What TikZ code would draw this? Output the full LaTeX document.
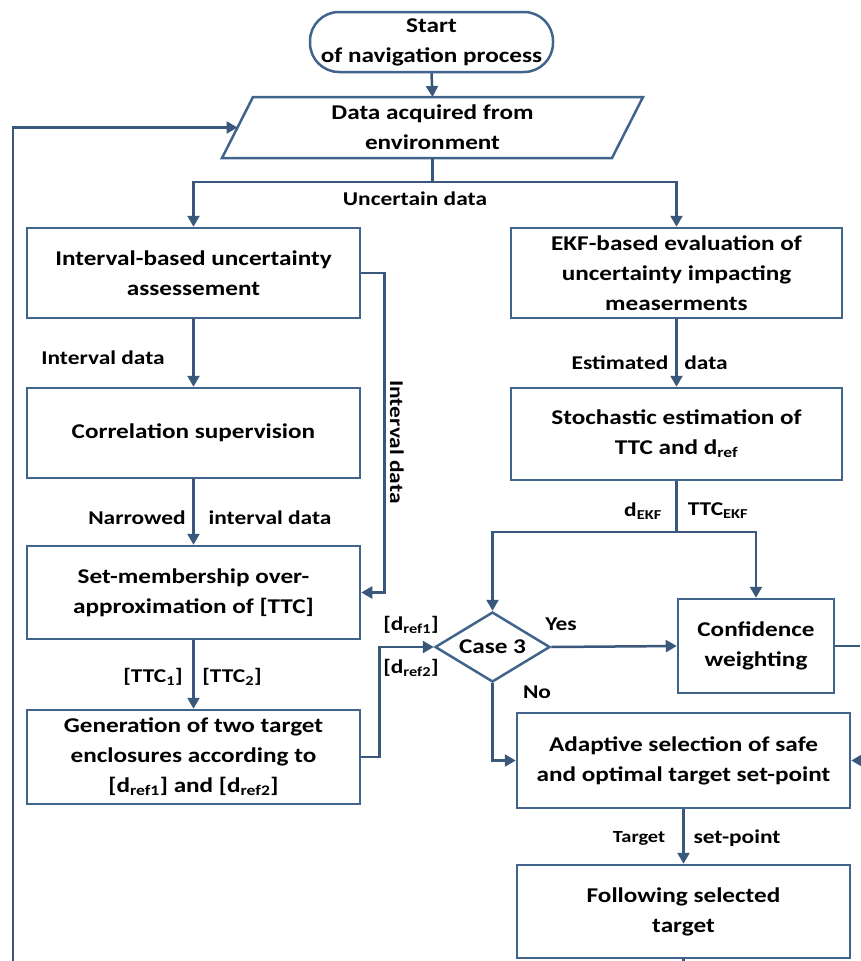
\documentclass[tikz,border=0pt]{standalone}
\usepackage{fontspec}
\setmainfont{Carlito}[FakeStretch=1.2]
\usetikzlibrary{arrows.meta,shapes.geometric}
\definecolor{boxc}{RGB}{65,100,140}
\definecolor{linec}{RGB}{58,88,124}
\newcommand\bxfont{\fontsize{21}{30}\selectfont\bfseries}
\newcommand\lbfont{\fontsize{19.5}{24}\selectfont\bfseries}
\newcommand\smfont{\fontsize{17}{20}\selectfont\bfseries}
\begin{document}
\begin{tikzpicture}[x=1pt,y=-1pt,
  box/.style={draw=boxc, line width=2.5pt, fill=white, align=center, font=\bxfont, inner sep=0pt},
  lbl/.style={font=\lbfont, inner sep=0pt},
  ln/.style={draw=linec, line width=2.5pt},
  arr/.style={draw=linec, line width=2.5pt, -{Triangle[length=11pt,width=12pt]}}]
\useasboundingbox (0,0) rectangle (860,961);

% nodes
\node[box, rounded corners=29pt, minimum width=243pt, minimum height=60pt] (start) at (431.5,42) {Start\\of navigation process};
\draw[draw=boxc, line width=2.5pt] (253,97) -- (643,97) -- (612,158) -- (222,158) -- cycle;
\node[font=\bxfont, align=center, inner sep=0pt] (data) at (432.5,127.5) {Data acquired from\\environment};
\coordinate (dataT) at (432.5,97);
\coordinate (dataB) at (432.5,158);
\coordinate (dataL) at (237.5,127.5);

\node[box, minimum width=333pt, minimum height=90pt] (b1) at (193.5,273) {Interval-based uncertainty\\assessement};
\node[box, minimum width=331pt, minimum height=90pt] (r1) at (676.5,273) {EKF-based evaluation of\\uncertainty impacting\\measerments};
\node[box, minimum width=333pt, minimum height=90pt] (b2) at (193.5,433) {Correlation supervision};
\node[box, minimum width=331pt, minimum height=92pt] (r2) at (676.5,434) {Stochastic estimation of\\TTC and d\textsubscript{ref}};
\node[box, minimum width=333pt, minimum height=93pt] (b3) at (193.5,592.5) {Set-membership over-\\approximation of [TTC]};
\node[box, minimum width=333pt, minimum height=94pt] (b4) at (193.5,757) {Generation of two target\\enclosures according to\\{[}d\textsubscript{ref1}{]} and {[}d\textsubscript{ref2}{]}};
\node[box, diamond, aspect=1.64, minimum width=115pt, minimum height=70pt] (dia) at (492.5,647) {Case 3};
\node[box, minimum width=156pt, minimum height=94pt] (conf) at (756,646) {Confidence\\weighting};
\node[box, minimum width=333pt, minimum height=95pt] (adapt) at (683.5,760.5) {Adaptive selection of safe\\and optimal target set-point};
\node[box, minimum width=333pt, minimum height=93pt] (follow) at (683.5,911.5) {Following selected\\target};

\coordinate (split) at (432.5,182);
\coordinate (split2) at (676.5,532);
\coordinate (rE1) at (860,646);
\coordinate (rE2) at (860,760.5);
\coordinate (fB) at (683.5,961);
\coordinate (lB) at (13,961);

% connectors
\draw[arr] (start.south) -- (dataT);
\draw[ln] (dataB) -- (split);
\draw[arr] (split) -| (b1.north);
\draw[arr] (split) -| (r1.north);
\draw[arr] (b1.south) -- (b2.north);
\draw[arr] (b2.south) -- (b3.north);
\draw[arr] (b3.south) -- (b4.north);
\draw[arr] (b1.east) -- ++(23,0) |- (b3.east);
\draw[arr] (b4.east) -- ++(18,0) |- (dia.west);
\draw[arr] (r1.south) -- (r2.north);
\draw[ln] (r2.south) -- (split2);
\draw[arr] (split2) -| (dia.north);
\draw[arr] (split2) -| (conf.north);
\draw[arr] (dia.east) -- (conf.west);
\draw[arr] (dia.south) |- (adapt.west);
\draw[ln] (conf.east) -- (rE1);
\draw[arr] (rE2) -- (adapt.east);
\draw[arr] (adapt.south) -- (follow.north);
\draw[ln] (follow.south) -- (fB);
\draw[arr] (lB) |- (dataL);

% labels
\node[lbl] at (415,199) {Uncertain data};
\node[lbl] at (103,358) {Interval data};
\node[lbl] at (620,363) {Estimated};
\node[lbl] at (706,363) {data};
\node[lbl, rotate=-90] at (397,442) {Interval data};
\node[lbl] at (137,518) {Narrowed};
\node[lbl] at (270,518) {interval data};
\node[lbl] at (153,677) {{[}TTC\textsubscript{1}{]}};
\node[lbl] at (232,677) {{[}TTC\textsubscript{2}{]}};
\node[lbl] at (643,511) {d\textsubscript{EKF}};
\node[lbl] at (718,511) {TTC\textsubscript{EKF}};
\node[lbl] at (411,625) {{[}d\textsubscript{ref1}{]}};
\node[lbl] at (411,668) {{[}d\textsubscript{ref2}{]}};
\node[lbl] at (561,624) {Yes};
\node[lbl] at (537,692) {No};
\node[font=\smfont, inner sep=0pt] at (639,838) {Target};
\node[lbl] at (737,838) {set-point};
\end{tikzpicture}
\end{document}
